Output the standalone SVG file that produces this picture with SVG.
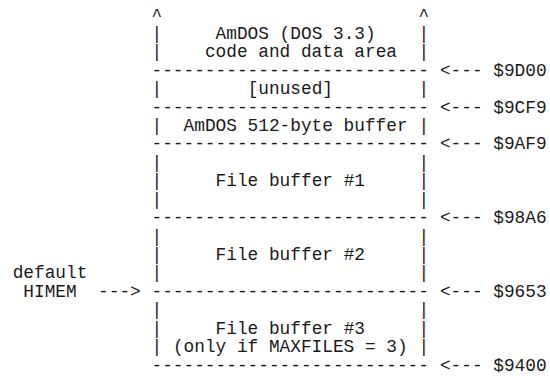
<svg xmlns="http://www.w3.org/2000/svg" width="550" height="376" viewBox="0 0 550 376">
<style>
text { font-family: "Liberation Mono", "DejaVu Sans Mono", monospace; font-size: 17.8px; fill: #1a1a1a; }
</style>
<rect width="550" height="376" fill="#fff"/>
<g id="amdos-code">
  <text x="151.52" y="20.5">^</text><text x="418.52" y="20.5">^</text>
  <text x="151.52" y="38.92">|</text><text x="215.6" y="38.92">AmDOS (DOS 3.3)</text><text x="418.52" y="38.92">|</text>
  <text x="151.52" y="57.34">|</text><text x="204.92" y="57.34">code and data area</text><text x="418.52" y="57.34">|</text>
  <text x="151.52" y="75.76">--------------------------</text>
</g>
<g id="unused">
  <text x="151.52" y="94.18">|</text><text x="247.64" y="94.18">[unused]</text><text x="418.52" y="94.18">|</text>
  <text x="151.52" y="112.61">--------------------------</text>
</g>
<g id="amdos-buffer">
  <text x="151.52" y="131.03">|</text><text x="183.56" y="131.03">AmDOS 512-byte buffer</text><text x="418.52" y="131.03">|</text>
  <text x="151.52" y="149.45">--------------------------</text>
</g>
<g id="file-buffer-1">
  <text x="151.52" y="167.87">|</text><text x="418.52" y="167.87">|</text>
  <text x="151.52" y="186.29">|</text><text x="215.6" y="186.29">File buffer #1</text><text x="418.52" y="186.29">|</text>
  <text x="151.52" y="204.71">|</text><text x="418.52" y="204.71">|</text>
  <text x="151.52" y="223.13">--------------------------</text>
</g>
<g id="file-buffer-2">
  <text x="151.52" y="241.55">|</text><text x="418.52" y="241.55">|</text>
  <text x="151.52" y="259.97">|</text><text x="215.6" y="259.97">File buffer #2</text><text x="418.52" y="259.97">|</text>
  <text x="151.52" y="278.39">|</text><text x="418.52" y="278.39">|</text>
  <text x="151.52" y="296.82">--------------------------</text>
</g>
<g id="file-buffer-3">
  <text x="151.52" y="315.24">|</text><text x="418.52" y="315.24">|</text>
  <text x="151.52" y="333.66">|</text><text x="215.6" y="333.66">File buffer #3</text><text x="418.52" y="333.66">|</text>
  <text x="151.52" y="352.08">|</text><text x="172.88" y="352.08">(only if MAXFILES = 3)</text><text x="418.52" y="352.08">|</text>
  <text x="151.52" y="370.5">--------------------------</text>
</g>
<g id="connectors">
  <text x="439.88" y="75.76">&lt;---</text><text x="493.28" y="75.76">$9D00</text>
  <text x="439.88" y="112.61">&lt;---</text><text x="493.28" y="112.61">$9CF9</text>
  <text x="439.88" y="149.45">&lt;---</text><text x="493.28" y="149.45">$9AF9</text>
  <text x="439.88" y="223.13">&lt;---</text><text x="493.28" y="223.13">$98A6</text>
  <text x="439.88" y="296.82">&lt;---</text><text x="493.28" y="296.82">$9653</text>
  <text x="439.88" y="370.5">&lt;---</text><text x="493.28" y="370.5">$9400</text>
  <text x="12.68" y="278.39">default</text>
  <text x="23.36" y="296.82">HIMEM</text>
  <text x="98.12" y="296.82">---&gt;</text>
</g>
</svg>
